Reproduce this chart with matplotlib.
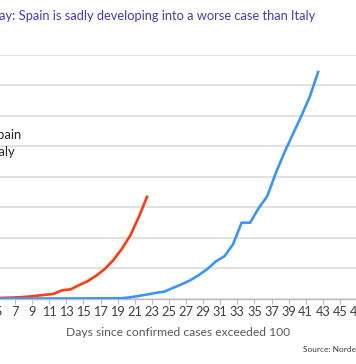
import matplotlib
matplotlib.use("Agg")
import matplotlib.pyplot as plt

# ---- data ----
title_text = "Today: Spain is sadly developing into a worse case than Italy"
xlabel_text = "Days since confirmed cases exceeded 100"
source_text = "Source: Nordea"
series_names = ["Spain", "Italy"]

spain_days = list(range(1, 23))
spain_vals = [0, 10, 20, 30, 40, 60, 80, 120, 180, 240, 300, 540, 600, 880,
              1140, 1500, 1940, 2520, 3260, 4160, 5380, 6760]

italy_days = list(range(1, 43))
italy_vals = [0, 0, 0, 0, 0, 0, 0, 0, 0, 0, 0, 0, 5, 5, 5, 10, 10, 10, 20, 80,
              170, 270, 370, 460, 700, 940, 1200, 1540, 1940, 2440, 2780, 3560,
              4980, 4980, 5940, 6720, 8240, 9580, 10800, 12000, 13300, 14960]

tick_labels = list(range(1, 51, 2))
grid_values = [0, 2000, 4000, 6000, 8000, 10000, 12000, 14000, 16000]

# ---- figure ----
W, H, DPI = 356, 364, 100
fig = plt.figure(figsize=(W / DPI, H / DPI), dpi=DPI)
plt.rcParams["font.family"] = ["Lato", "DejaVu Sans"]

px_left, px_right = -60, 380
px_top, px_bottom = 55, 298.5
ax = fig.add_axes([px_left / W, 1 - px_bottom / H,
                   (px_right - px_left) / W, (px_bottom - px_top) / H])

# x mapping: data day d at pixel 15 + (d - 6.5) * 8.55
ppd = 8.55
def px_to_day(p):
    return 6.5 + (p - 15) / ppd
ax.set_xlim(px_to_day(px_left), px_to_day(px_right))
ax.set_ylim(grid_values[0], grid_values[-1])

red = "#ff3c14"
blue = "#3d95f2"
ax.plot(spain_days, spain_vals, color=red, lw=1.9, solid_capstyle="butt",
        label=series_names[0], zorder=3)
ax.plot(italy_days, italy_vals, color=blue, lw=1.9, solid_capstyle="butt",
        label=series_names[1], zorder=3)

ax.set_yticks(grid_values)
ax.yaxis.grid(True, color="#d9d9d9", lw=1.1)
ax.set_axisbelow(True)
ax.tick_params(axis="y", left=False, labelleft=False)
for s in ["left", "right", "top"]:
    ax.spines[s].set_visible(False)
ax.spines["bottom"].set_color("#bfbfbf")
ax.spines["bottom"].set_linewidth(1.0)

ax.set_xticks([d - 0.5 for d in tick_labels])
ax.set_xticklabels([str(d) for d in tick_labels])
ax.tick_params(axis="x", direction="out", length=3.5, width=0.8,
               color="#bfbfbf", labelsize=9.2, labelcolor="#404040", pad=2)

ax.set_xlabel(xlabel_text, fontsize=8.7, color="#595959")
ax.xaxis.set_label_coords((178.5 - px_left) / (px_right - px_left),
                          (px_bottom - 332) / (px_bottom - px_top))
ax.xaxis.label.set_verticalalignment("center")

leg = ax.legend(loc="upper left", bbox_to_anchor=(-46 / W, 1 - 129 / H),
                bbox_transform=fig.transFigure, frameon=False, fontsize=9.4,
                handlelength=2.0, handletextpad=0.8, labelspacing=0.35,
                borderpad=0, borderaxespad=0)
for t in leg.get_texts():
    t.set_color("#262626")

fig.text(315 / W, 1 - 16 / H, title_text, ha="right", va="center",
         fontsize=9.3, color="#3f3fb0")
fig.text(303 / W, 1 - 350 / H, source_text, ha="left", va="center",
         fontsize=6.0, color="#404040")

fig.savefig("out.png", dpi=DPI)
